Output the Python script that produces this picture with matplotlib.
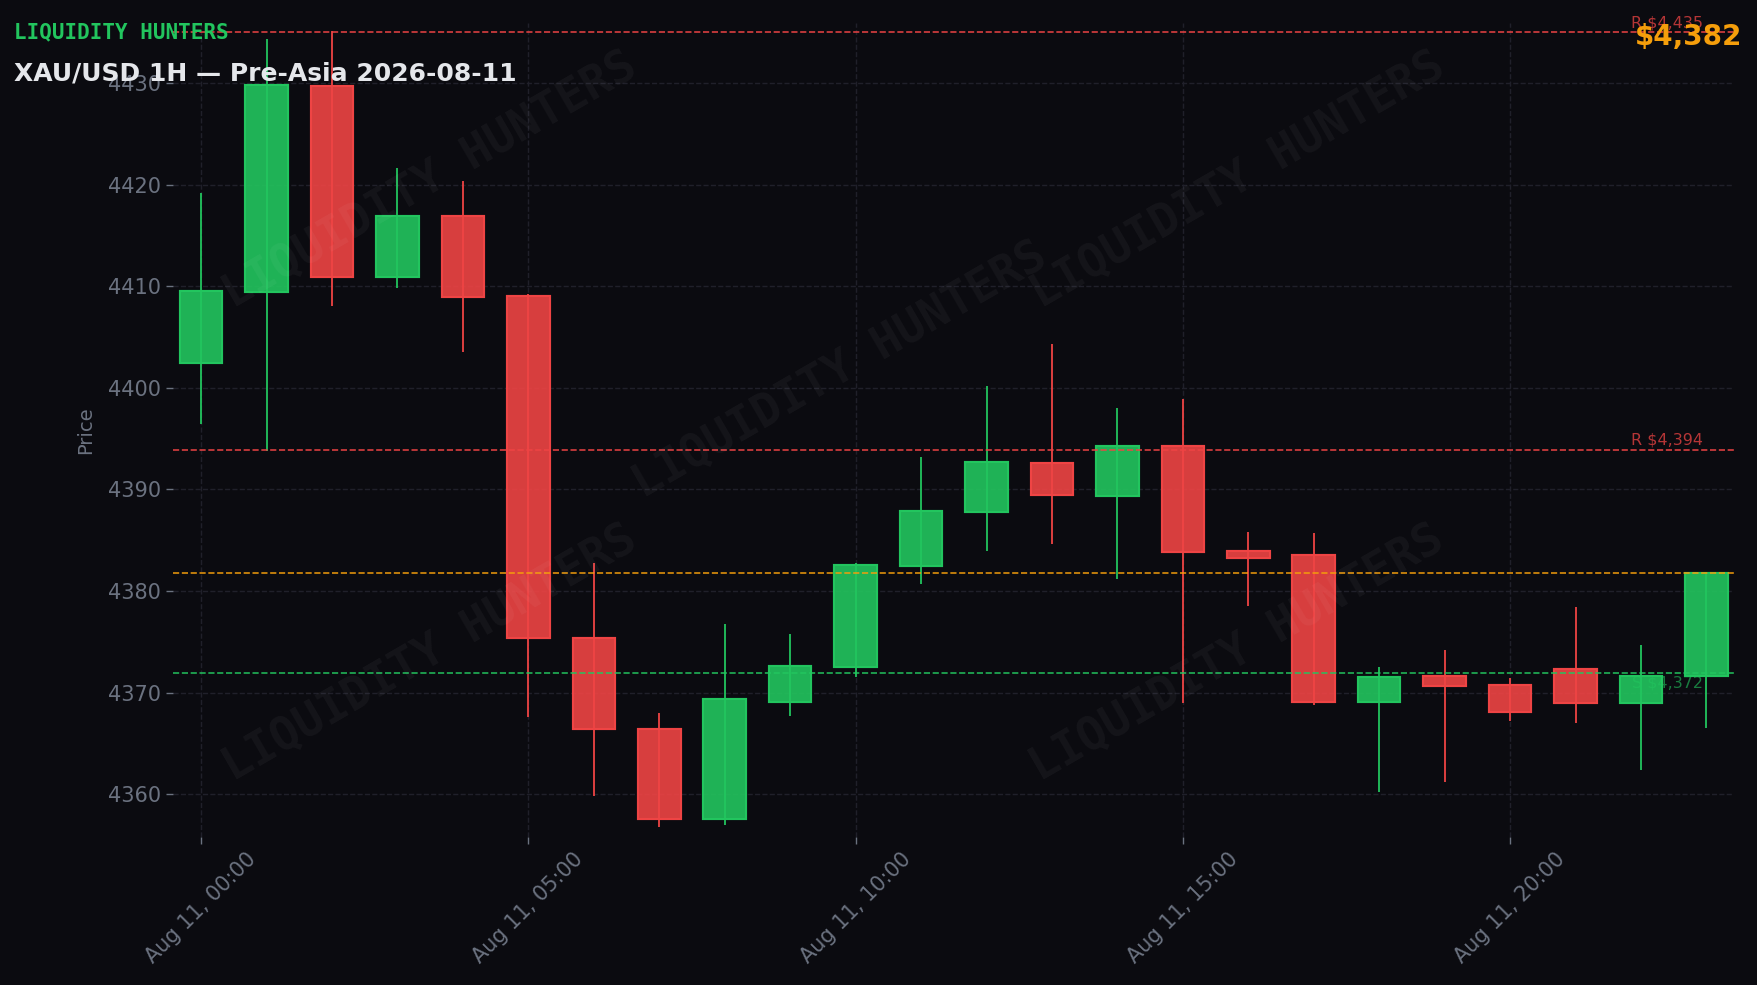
import matplotlib
matplotlib.use("Agg")
import matplotlib.pyplot as plt
import matplotlib.dates as mdates
import pandas as pd

# ---- data ----
times = pd.date_range("2026-08-11 00:00", periods=24, freq="h")
opens = [4402.4, 4409.4, 4429.7, 4410.9, 4416.9, 4409.0, 4375.4, 4366.4, 4357.6, 4369.1, 4372.5, 4382.5,
         4387.8, 4392.6, 4389.4, 4394.3, 4383.9, 4383.5, 4369.1, 4371.6, 4370.8, 4372.3, 4369.0, 4371.6]
closes = [4409.5, 4429.8, 4410.9, 4416.9, 4408.9, 4375.4, 4366.4, 4357.6, 4369.4, 4372.6, 4382.6, 4387.9,
          4392.7, 4389.5, 4394.3, 4383.8, 4383.3, 4369.1, 4371.5, 4370.65, 4368.1, 4369.0, 4371.65, 4381.8]
highs = [4419.2, 4434.3, 4435.1, 4421.6, 4420.4, 4409.2, 4382.8, 4368.0, 4376.8, 4375.8, 4382.8, 4393.2,
         4400.2, 4404.3, 4398.0, 4398.9, 4385.8, 4385.7, 4372.5, 4374.2, 4371.4, 4378.4, 4374.7, 4381.8]
lows = [4396.4, 4393.8, 4408.1, 4409.8, 4403.5, 4367.6, 4359.8, 4356.8, 4357.0, 4367.7, 4371.5, 4380.7,
        4383.9, 4384.6, 4381.2, 4369.0, 4378.5, 4368.8, 4360.2, 4361.2, 4367.2, 4367.0, 4362.4, 4366.5]

resistance_levels = [4435.0, 4393.9]
support_levels = [4371.9]
current_price = 4381.8

title = "XAU/USD 1H — Pre-Asia 2026-08-11"
brand = "LIQUIDITY HUNTERS"

# ---- style ----
BG = "#0b0b10"
GREEN = "#22c55e"
RED = "#ef4444"
ORANGE = "#f59e0b"
GRAY = "#6b7280"

fig = plt.figure(figsize=(17.58, 9.85), dpi=100, facecolor=BG)
ax = fig.add_axes([0.0984, 0.1503, 0.8879, 0.8263])
ax.set_facecolor(BG)

width = 0.65 / 24
for t, o, c, h, l in zip(times, opens, closes, highs, lows):
    col = GREEN if c >= o else RED
    x = mdates.date2num(t)
    ax.vlines(x, l, h, color=col, linewidth=1.3, zorder=2)
    ax.bar(x, abs(c - o), bottom=min(o, c), width=width, color=col, alpha=0.9,
           edgecolor=col, linewidth=1.5, zorder=3)

# edges at full opacity
for t, o, c in zip(times, opens, closes):
    col = GREEN if c >= o else RED
    x = mdates.date2num(t)
    ax.bar(x, abs(c - o), bottom=min(o, c), width=width, facecolor="none",
           edgecolor=col, linewidth=1.5, zorder=4)

x_last = mdates.date2num(times[-1]) - 0.05 / 24
for lvl in resistance_levels:
    ax.axhline(lvl, color=RED, linestyle="--", linewidth=1.2, alpha=0.9, zorder=5)
    ax.text(x_last, lvl + 0.2, f"R ${lvl:,.0f}", color=RED, alpha=0.75, fontsize=11.5,
            ha="right", va="bottom", zorder=6)
for lvl in support_levels:
    ax.axhline(lvl, color=GREEN, linestyle="--", linewidth=1.2, alpha=0.9, zorder=5)
    ax.text(x_last, lvl - 0.2, f"S ${lvl:,.0f}", color=GREEN, alpha=0.6, fontsize=11.5,
            ha="right", va="top", zorder=6)
ax.axhline(current_price, color=ORANGE, linestyle="--", linewidth=1.2, alpha=0.9, zorder=5)

t0 = mdates.date2num(times[0])
ax.set_xlim(t0 - 0.43 / 24, mdates.date2num(times[-1]) + 0.42 / 24)
ax.set_ylim(4355.8, 4435.9)

ax.xaxis.set_major_locator(mdates.HourLocator(byhour=[0, 5, 10, 15, 20]))
ax.xaxis.set_major_formatter(mdates.DateFormatter("%b %d, %H:%M"))
ax.tick_params(colors=GRAY, labelsize=15, length=5, width=1)
ax.tick_params(axis="x", labelrotation=45)
for lab in ax.get_xticklabels():
    lab.set_ha("center")
ax.set_ylabel("Price", color=GRAY, fontsize=14, labelpad=9)
for s in ax.spines.values():
    s.set_visible(False)
ax.grid(True, linestyle="--", color="#20202a", linewidth=1.0)
ax.set_axisbelow(True)

# header texts
fig.text(0.008, 0.9675, brand, color=GREEN, fontsize=15, fontweight="bold",
         family="DejaVu Sans Mono", ha="left", va="center")
fig.text(0.008, 0.925, title, color="#e5e7eb", fontsize=18, fontweight="bold",
         ha="left", va="center")
fig.text(0.991, 0.962, f"${current_price:,.0f}", color=ORANGE, fontsize=20, fontweight="bold",
         ha="right", va="center")

# watermarks
for (wx, wy) in [(0.2446, 0.8173), (0.7042, 0.8173), (0.4778, 0.6244), (0.2446, 0.3371), (0.7036, 0.3371)]:
    fig.text(wx, wy, brand, color="white", alpha=0.045, fontsize=33, fontweight="bold",
             family="DejaVu Sans Mono", rotation=30, ha="center", va="center",
             rotation_mode="anchor", zorder=10)

fig.savefig("out.png", dpi=100, facecolor=BG)
